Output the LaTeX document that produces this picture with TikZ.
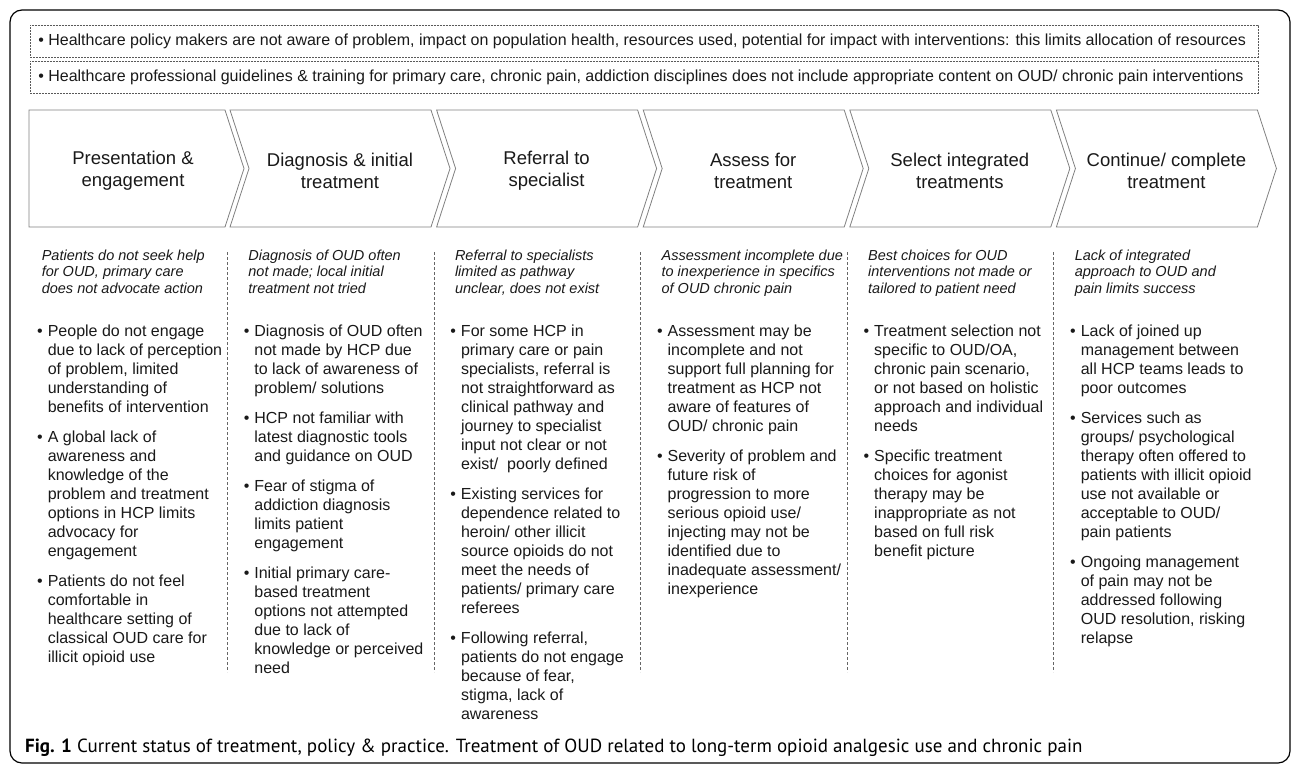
\documentclass[tikz,border=0pt]{standalone}
\usepackage{fontspec}
\setmainfont{Liberation Sans}
\newfontfamily\capfont{PT Sans}
\newcommand{\colstack}[1]{\begin{tabular}[t]{@{}l@{}}#1\end{tabular}}

\begin{document}
\begin{tikzpicture}[x=1pt,y=-1pt]
	\tikzstyle{stage}=[draw=black!50,line width=0.8pt,line join=miter]
	\tikzstyle{stagelabel}=[align=center,inner sep=0pt,text=black!90,font=\fontsize{18.5}{22}\selectfont]
	\tikzstyle{barrier}=[draw=black!65,dash pattern=on 2pt off 1pt,line width=0.6pt,anchor=north west,minimum width=1228pt,minimum height=32pt,inner xsep=8pt,inner ysep=0pt,text=black!90,font=\fontsize{16}{18}\selectfont]
	\tikzstyle{divider}=[draw=black!60,dash pattern=on 3pt off 2pt,line width=0.6pt]
	\tikzstyle{issue}=[anchor=base west,inner sep=0pt,text=black!90,font=\itshape\fontsize{14.5}{16.6}\selectfont]
	\tikzstyle{points}=[anchor=base west,inner sep=0pt,text=black!90,font=\fontsize{16}{19}\selectfont]
	\newcommand{\itm}{\makebox[0pt][r]{•\hspace{5pt}}}
	\useasboundingbox (0,0) rectangle (1292,766);
	% frame
	\draw[line width=1.2pt,rounded corners=12pt] (10,10) rectangle (1290,763);
	% barriers on top
	\node[barrier] (policy) at (30,25) {\makebox[1212pt][l]{• Healthcare policy makers are not aware of problem, impact on population health, resources used, potential for impact with interventions: this limits allocation of resources}};
	\node[barrier] (training) at (30,61) {\makebox[1212pt][l]{• Healthcare professional guidelines \& training for primary care, chronic pain, addiction disciplines does not include appropriate content on OUD/ chronic pain interventions}};
	% chevrons
	\draw[stage] (29,110) -- (225,110) -- (244,168.5) -- (225,227) -- (29,227) -- cycle;
	\foreach \i in {0,...,4}
		\draw[stage,xshift=\i*206.6pt] (230,110) -- (431,110) -- (450,168.5) -- (431,227) -- (230,227) -- (249,168.5) -- cycle;
	\node[stagelabel] (present) at (133,171) {Presentation \&\\engagement};
	\node[stagelabel] (diagnose) at (340,171) {Diagnosis \& initial\\treatment};
	\node[stagelabel] (refer) at (546.6,171) {Referral to\\specialist};
	\node[stagelabel] (assess) at (753.2,171) {Assess for\\treatment};
	\node[stagelabel] (select) at (959.8,171) {Select integrated\\treatments};
	\node[stagelabel] (continue) at (1166.4,171) {Continue/ complete\\treatment};
	% dividers
	\foreach \x in {227.2,433.8,640.4,847,1053.6}
		\draw[divider] (\x,252) -- (\x,672);
	% summaries
	\node[issue] (presentsum) at (41.6,260) {\colstack{Patients do not seek help\\for OUD, primary care\\does not advocate action}};
	\node[issue] (diagnosesum) at (248.2,260) {\colstack{Diagnosis of OUD often\\not made; local initial\\treatment not tried}};
	\node[issue] (refersum) at (454.8,260) {\colstack{Referral to specialists\\limited as pathway\\unclear, does not exist}};
	\node[issue] (assesssum) at (661.4,260) {\colstack{Assessment incomplete due\\to inexperience in specifics\\of OUD chronic pain}};
	\node[issue] (selectsum) at (868,260) {\colstack{Best choices for OUD\\interventions not made or\\tailored to patient need}};
	\node[issue] (continuesum) at (1074.6,260) {\colstack{Lack of integrated\\approach to OUD and\\pain limits success}};
	% bullet points
	\node[points] (presentpts) at (47.6,336) {\colstack{\itm People do not engage\\due to lack of perception\\of problem, limited\\understanding of\\benefits of intervention\\[11pt]
		\itm A global lack of\\awareness and\\knowledge of the\\problem and treatment\\options in HCP limits\\advocacy for\\engagement\\[11pt]
		\itm Patients do not feel\\comfortable in\\healthcare setting of\\classical OUD care for\\illicit opioid use}};
	\node[points] (diagnosepts) at (254.2,336) {\colstack{\itm Diagnosis of OUD often\\not made by HCP due\\to lack of awareness of\\problem/ solutions\\[11pt]
		\itm HCP not familiar with\\latest diagnostic tools\\and guidance on OUD\\[11pt]
		\itm Fear of stigma of\\addiction diagnosis\\limits patient\\engagement\\[11pt]
		\itm Initial primary care-\\based treatment\\options not attempted\\due to lack of\\knowledge or perceived\\need}};
	\node[points] (referpts) at (460.8,336) {\colstack{\itm For some HCP in\\primary care or pain\\specialists, referral is\\not straightforward as\\clinical pathway and\\journey to specialist\\input not clear or not\\exist/\ \ poorly defined\\[11pt]
		\itm Existing services for\\dependence related to\\heroin/ other illicit\\source opioids do not\\meet the needs of\\patients/ primary care\\referees\\[11pt]
		\itm Following referral,\\patients do not engage\\because of fear,\\stigma, lack of\\awareness}};
	\node[points] (assesspts) at (667.4,336) {\colstack{\itm Assessment may be\\incomplete and not\\support full planning for\\treatment as HCP not\\aware of features of\\OUD/ chronic pain\\[11pt]
		\itm Severity of problem and\\future risk of\\progression to more\\serious opioid use/\\injecting may not be\\identified due to\\inadequate assessment/\\inexperience}};
	\node[points] (selectpts) at (874,336) {\colstack{\itm Treatment selection not\\specific to OUD/OA,\\chronic pain scenario,\\or not based on holistic\\approach and individual\\needs\\[11pt]
		\itm Specific treatment\\choices for agonist\\therapy may be\\inappropriate as not\\based on full risk\\benefit picture}};
	\node[points] (continuepts) at (1080.6,336) {\colstack{\itm Lack of joined up\\management between\\all HCP teams leads to\\poor outcomes\\[11pt]
		\itm Services such as\\groups/ psychological\\therapy often offered to\\patients with illicit opioid\\use not available or\\acceptable to OUD/\\pain patients\\[11pt]
		\itm Ongoing management\\of pain may not be\\addressed following\\OUD resolution, risking\\relapse}};
	% caption
	\node[anchor=base west,inner sep=0pt,font=\capfont\fontsize{19}{21}\selectfont] (caption) at (25,752) {\textbf{Fig. 1} Current status of treatment, policy \& practice. Treatment of OUD related to long-term opioid analgesic use and chronic pain};
\end{tikzpicture}
\end{document}
